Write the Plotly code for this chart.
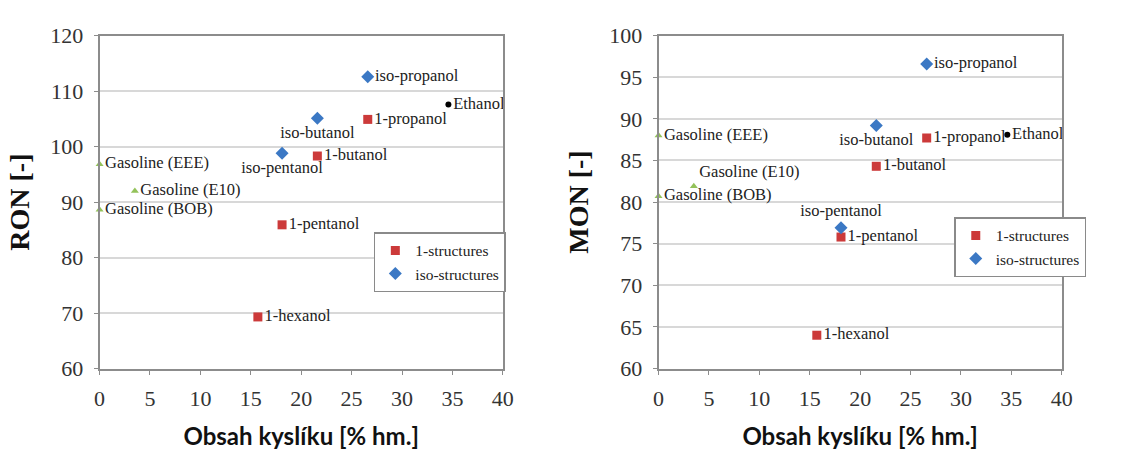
import plotly.graph_objects as go

# ---- data ----
gas_names = ["Gasoline (EEE)", "Gasoline (E10)", "Gasoline (BOB)"]
gas_o = [0.0, 3.5, 0.0]
gas_ron = [96.8, 92.0, 88.6]
gas_mon = [88.0, 81.9, 80.7]

n_names = ["1-propanol", "1-butanol", "1-pentanol", "1-hexanol"]
n_o = [26.6, 21.6, 18.1, 15.7]
n_ron = [104.9, 98.3, 85.9, 69.3]
n_mon = [87.7, 84.3, 75.8, 64.0]

iso_names = ["iso-propanol", "iso-butanol", "iso-pentanol"]
iso_o = [26.6, 21.6, 18.1]
iso_ron = [112.6, 105.1, 98.8]
iso_mon = [96.6, 89.2, 76.9]

eth_names = ["Ethanol"]
eth_o = [34.6]
eth_ron = [107.6]
eth_mon = [88.1]

x_ticks = [0, 5, 10, 15, 20, 25, 30, 35, 40]
ron_ticks = [60, 70, 80, 90, 100, 110, 120]
mon_ticks = [60, 65, 70, 75, 80, 85, 90, 95, 100]

SERIF = "Liberation Serif, Times New Roman, serif"
RED = "#cc3a3a"
BLUE = "#3b78c4"
GREEN = "#93c25a"
LBL = dict(family=SERIF, size=16.5, color="#222")

fig = go.Figure()

def add_panel(xa, ya, gas_y, n_y, iso_y, eth_y, gas_pos, n_pos, iso_pos, legend):
    fig.add_trace(go.Scatter(x=gas_o, y=gas_y, mode="markers+text", text=gas_names,
                             textposition=gas_pos, textfont=LBL, cliponaxis=False,
                             marker=dict(symbol="triangle-up", size=7, color=GREEN),
                             showlegend=False, xaxis=xa, yaxis=ya))
    fig.add_trace(go.Scatter(x=n_o, y=n_y, mode="markers+text", text=n_names,
                             textposition=n_pos, textfont=LBL, cliponaxis=False,
                             marker=dict(symbol="square", size=9, color=RED),
                             name="1-structures", legend=legend, xaxis=xa, yaxis=ya))
    fig.add_trace(go.Scatter(x=iso_o, y=iso_y, mode="markers+text", text=iso_names,
                             textposition=iso_pos, textfont=LBL, cliponaxis=False,
                             marker=dict(symbol="diamond", size=10, color=BLUE),
                             name="iso-structures", legend=legend, xaxis=xa, yaxis=ya))
    fig.add_trace(go.Scatter(x=eth_o, y=eth_y, mode="markers+text", text=eth_names,
                             textposition="middle right", textfont=LBL, cliponaxis=False,
                             marker=dict(symbol="circle", size=6, color="black"),
                             showlegend=False, xaxis=xa, yaxis=ya))

add_panel("x", "y", gas_ron, n_ron, iso_ron, eth_ron,
          ["middle right", "middle right", "middle right"],
          ["middle right"] * 4,
          ["middle right", "bottom center", "bottom center"], "legend")
add_panel("x2", "y2", gas_mon, n_mon, iso_mon, eth_mon,
          ["middle right", "top right", "middle right"],
          ["middle right"] * 4,
          ["middle right", "bottom center", "top center"], "legend2")

xcommon = dict(range=[0, 40], tickvals=x_ticks, showgrid=False, zeroline=False,
               showline=True, linecolor="#8c8c8c", linewidth=2, mirror=True,
               ticks="outside", ticklen=4, tickcolor="#8c8c8c", ticklabelstandoff=5,
               tickfont=dict(family=SERIF, size=22, color="#333"),
               title=dict(text="<b>Obsah kyslíku [% hm.]</b>",
                          font=dict(family="Lato", size=24, color="#111"), standoff=18))
ycommon = dict(showgrid=True, gridcolor="#d8d8d8", gridwidth=2, zeroline=False,
               showline=True, linecolor="#8c8c8c", linewidth=2, mirror=True,
               ticks="outside", ticklen=4, tickcolor="#8c8c8c", ticklabelstandoff=6,
               tickfont=dict(family=SERIF, size=22, color="#333"))

legend_style = dict(xanchor="right", yanchor="top",
                    bgcolor="white", bordercolor="#8a8a8a", borderwidth=1.5,
                    font=dict(family=SERIF, size=15.5, color="#222"),
                    itemwidth=30, tracegroupgap=0)

fig.update_layout(
    width=1125, height=460,
    margin=dict(l=0, r=0, t=0, b=0),
    paper_bgcolor="white", plot_bgcolor="white",
    xaxis=dict(domain=[0.0853, 0.4489], anchor="y", **xcommon),
    xaxis2=dict(domain=[0.5893, 0.9529], anchor="y2", **xcommon),
    yaxis=dict(domain=[0.1804, 0.9457], anchor="x", range=[60, 120], tickvals=ron_ticks,
               title=dict(text="<b>RON [-]</b>", font=dict(family=SERIF, size=28, color="#111"),
                          standoff=12), **ycommon),
    yaxis2=dict(domain=[0.1804, 0.9457], anchor="x2", range=[60, 100], tickvals=mon_ticks,
                title=dict(text="<b>MON [-]</b>", font=dict(family=SERIF, size=28, color="#111"),
                           standoff=12), **ycommon),
    legend=dict(x=0.4516, y=0.4935, **legend_style),
    legend2=dict(x=0.975, y=0.528, **legend_style),
)

fig.write_html("out.html")
